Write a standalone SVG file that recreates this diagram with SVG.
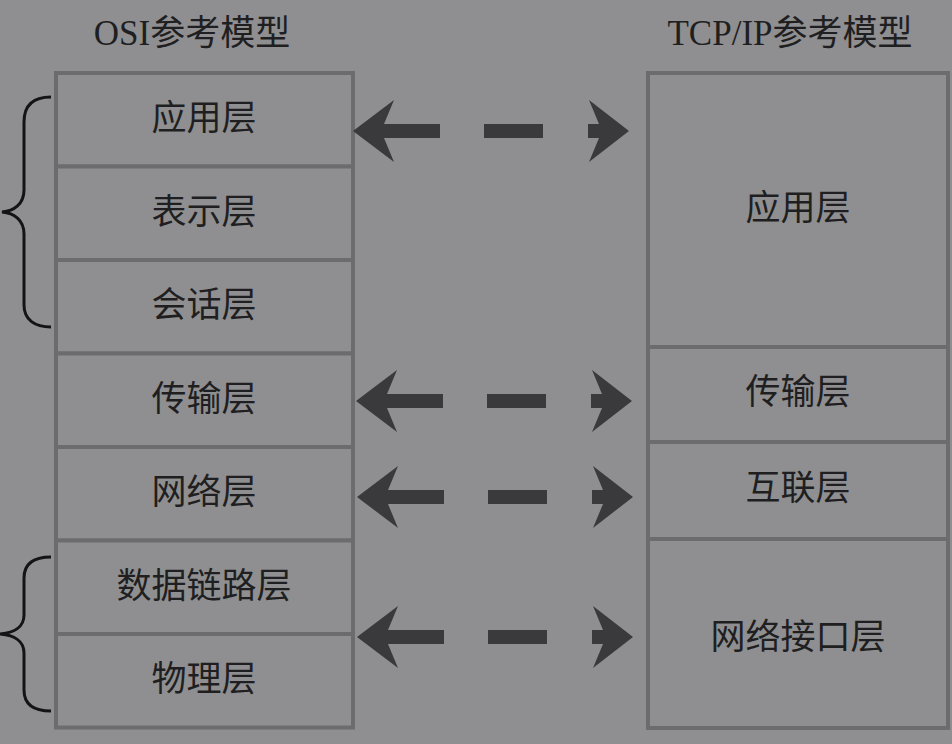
<svg xmlns="http://www.w3.org/2000/svg" width="952" height="744" viewBox="0 0 952 744">
<style>
.bg{fill:#8f8f91}
.box{fill:#8f8f91;stroke:#6c6c6e;stroke-width:4}
.t{font-family:"Liberation Serif","Noto Sans CJK SC",serif;font-size:35px;fill:#1f1f21;text-anchor:middle}
.brace{fill:none;stroke:#141416;stroke-width:3}
.arr{fill:#3a3a3c}
</style>
<defs>
<g id="arrow">
<path d="M0,0 L41,-31 L31,-7 L87,-7 L87,7 L31,7 L41,31 Z"/>
<rect x="131" y="-7" width="59" height="14"/>
<path d="M235,-7 L246,-7 L236,-31 L276,0 L236,31 L246,7 L235,7 Z"/>
</g>
</defs>
<rect class="bg" x="0" y="0" width="952" height="744"/>
<g id="titles">
<text class="t" x="192" y="45">OSI参考模型</text>
<text class="t" x="790" y="45">TCP/IP参考模型</text>
</g>
<g id="osi-app"><rect class="box" x="56" y="73" width="297" height="93.5"/><text class="t" x="204" y="130">应用层</text></g>
<g id="osi-pres"><rect class="box" x="56" y="166.5" width="297" height="93.5"/><text class="t" x="204" y="224">表示层</text></g>
<g id="osi-sess"><rect class="box" x="56" y="260" width="297" height="93.5"/><text class="t" x="204" y="317">会话层</text></g>
<g id="osi-trans"><rect class="box" x="56" y="353.5" width="297" height="93.5"/><text class="t" x="204" y="411">传输层</text></g>
<g id="osi-net"><rect class="box" x="56" y="447" width="297" height="93.5"/><text class="t" x="204" y="504">网络层</text></g>
<g id="osi-link"><rect class="box" x="56" y="540.5" width="297" height="93.5"/><text class="t" x="204" y="598">数据链路层</text></g>
<g id="osi-phys"><rect class="box" x="56" y="634" width="297" height="93.5"/><text class="t" x="204" y="691">物理层</text></g>
<g id="tcp-app"><rect class="box" x="648" y="73" width="300" height="274"/><text class="t" x="798" y="220">应用层</text></g>
<g id="tcp-trans"><rect class="box" x="648" y="347" width="300" height="95"/><text class="t" x="798" y="404">传输层</text></g>
<g id="tcp-inet"><rect class="box" x="648" y="442" width="300" height="97"/><text class="t" x="798" y="500">互联层</text></g>
<g id="tcp-netif"><rect class="box" x="648" y="539" width="300" height="189"/><text class="t" x="798" y="649">网络接口层</text></g>
<g id="braces">
<path class="brace" d="M51,97 C35,97 24,104 24,122 L24,190 C24,204 14,211 2,212 C14,213 24,220 24,234 L24,305 C24,320 35,327 51,327"/>
<path class="brace" d="M51,557 C35,557 24,563 24,578 L24,615 C24,627 14,633 0,634 C14,635 24,641 24,653 L24,690 C24,705 35,711 51,711"/>
</g>
<g id="connectors" class="arr">
<use href="#arrow" transform="translate(353,131)"/>
<use href="#arrow" transform="translate(356,401)"/>
<use href="#arrow" transform="translate(357,497)"/>
<use href="#arrow" transform="translate(357,637)"/>
</g>
</svg>
